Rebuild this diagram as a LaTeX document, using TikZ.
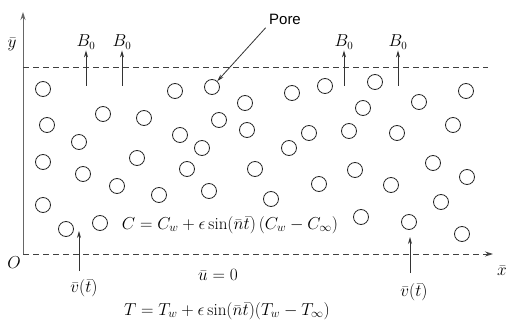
\documentclass[tikz,border=0pt]{standalone}
\usepackage{amsmath}
\usepackage{fontspec}
\usepackage{tikz}
\usetikzlibrary{positioning, arrows.meta}
\newfontfamily\labelsans{Liberation Sans}

\begin{document}
\begin{tikzpicture}[
  x=1pt, y=-1pt,
  pore/.style={circle, draw=black!85, line width=0.8pt, minimum size=15pt,
               inner sep=0pt},
  lbl/.style={font=\fontsize{16}{18}\selectfont, inner sep=1pt},
  eqn/.style={font=\fontsize{17}{20}\selectfont, inner sep=1pt},
  arr/.style={draw=black!80, line width=0.8pt,
              -{Stealth[length=7pt, width=4pt]}},
  axis/.style={draw=black!60, line width=0.9pt,
               -{Stealth[length=8pt, width=5pt]}},
  wall/.style={draw=black!75, line width=0.8pt, dash pattern=on 6pt off 4pt},
]
  \useasboundingbox (0,0) rectangle (507,321);

  \coordinate (O) at (23,254);
  \coordinate (ytip) at (23,12);
  \coordinate (xtip) at (493,254);
  \coordinate (topL) at (23,67);
  \coordinate (topR) at (488,67);

  \draw[axis] (O) -- (ytip);
  \draw[wall, -{Stealth[length=8pt, width=5pt]}] (O) -- (xtip);
  \draw[wall] (topL) -- (topR);

  \node[lbl] (ylab) at (12,44) {$\bar{y}$};
  \node[lbl] (xlab) at (502,271) {$\bar{x}$};
  \node[lbl] (olab) at (14,263) {$O$};

  \foreach \px/\py [count=\i] in {43/89, 47/125, 103/114, 144/118, 175/91,
      79/142, 180/135, 43/162, 137/158, 83/174, 117/186, 159/195, 43/205,
      66/229, 100/223, 187/169, 245/103, 219/120, 247/130, 202/148, 255/169,
      209/191, 271/199, 292/93, 325/86, 289/148, 309/133, 319/184, 375/82,
      363/108, 419/102, 466/91, 349/131, 397/133, 453/125, 355/170, 433/163,
      467/177, 391/185, 441/202, 361/217, 409/222, 462/234}
    \node[pore] (p\i) at (\px,\py) {};
  \node[pore] (pore) at (212,87) {};

  \node[font=\labelsans\fontsize{15}{18}\selectfont] (porelbl) at (285,19) {Pore};
  \draw[arr] (porelbl.south west) -- (pore);

  \foreach \bx [count=\j] in {86, 122, 344, 398} {
    \node[lbl] (b\j) at (\bx,42) {$B_0$};
    \coordinate (bs\j) at (\bx,86);
    \draw[arr] (bs\j) -- (b\j.south);
  }

  \node[eqn] (v1) at (84,288) {$\bar{v}(\bar{t})$};
  \node[eqn] (v2) at (414,292) {$\bar{v}(\bar{t})$};
  \coordinate (vs1) at (79,271);
  \coordinate (vt1) at (79,231);
  \coordinate (vs2) at (410,273);
  \coordinate (vt2) at (410,237);
  \draw[arr] (vs1) -- (vt1);
  \draw[arr] (vs2) -- (vt2);

  \node[eqn] (ceq) at (230,225)
    {$C = C_w + \epsilon\sin(\bar{n}\bar{t})\,(C_w - C_\infty)$};
  \node[eqn] (ueq) at (218,275) {$\bar{u} = 0$};
  \node[eqn] (teq) at (227,311)
    {$T = T_w + \epsilon\sin(\bar{n}\bar{t})(T_w - T_\infty)$};
\end{tikzpicture}
\end{document}
